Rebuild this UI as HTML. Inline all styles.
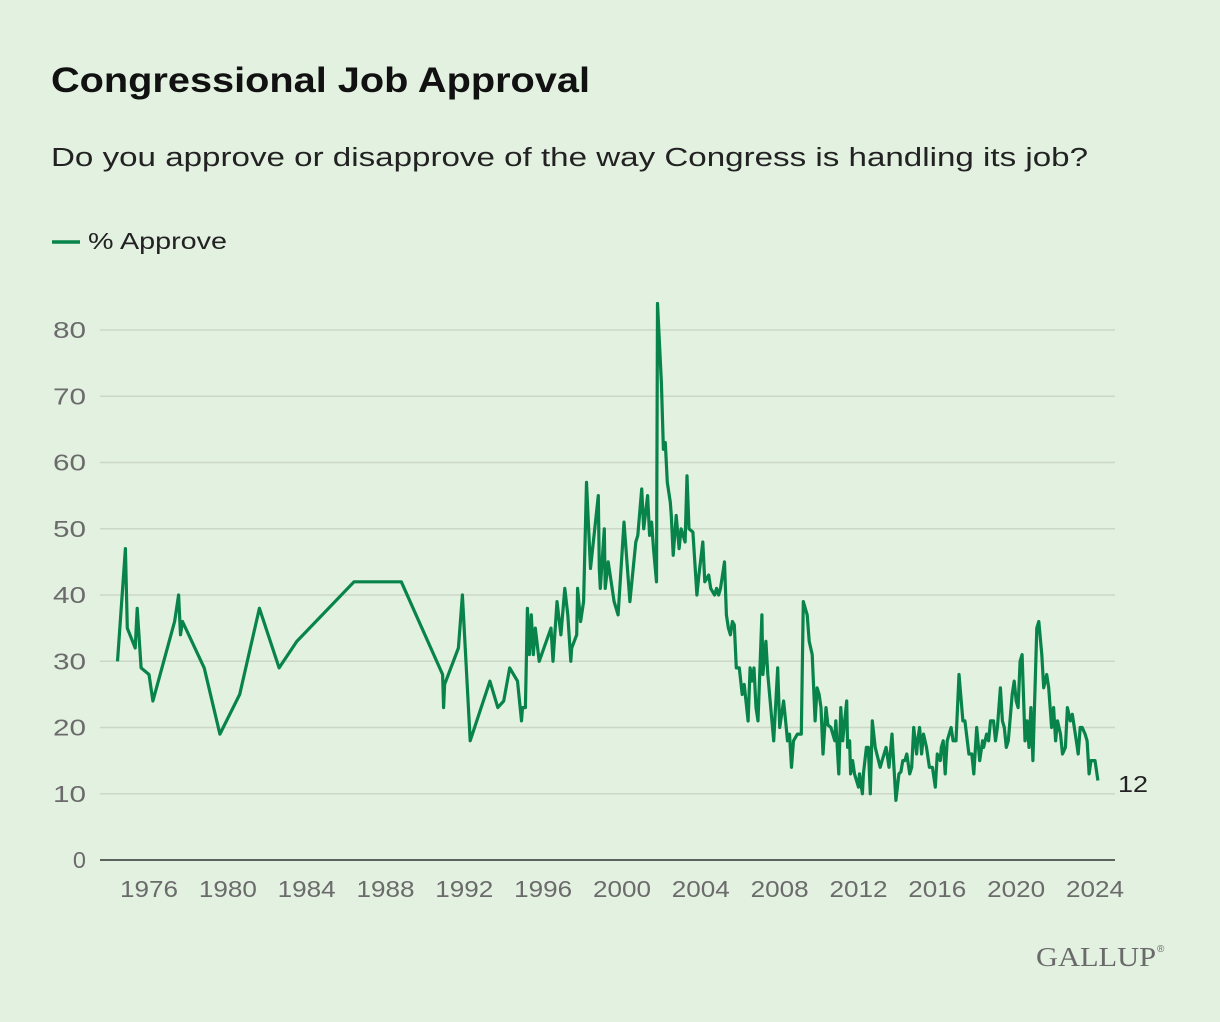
<!DOCTYPE html>
<html><head><meta charset="utf-8"><style>
body{margin:0;background:#e3f1e1;}
svg{display:block;font-family:"Liberation Sans",sans-serif;}
</style></head><body>
<svg width="1220" height="1022">
<rect width="1220" height="1022" fill="#e3f1e1"/>
<text x="51" y="92" font-size="35" font-weight="bold" fill="#111" textLength="539" lengthAdjust="spacingAndGlyphs">Congressional Job Approval</text>
<text x="51" y="166" font-size="25.5" fill="#222" textLength="1037" lengthAdjust="spacingAndGlyphs">Do you approve or disapprove of the way Congress is handling its job?</text>
<g>
<line x1="52" y1="242" x2="80" y2="242" stroke="#08844a" stroke-width="3.5"/>
<text x="88" y="249" font-size="23" fill="#222" textLength="139" lengthAdjust="spacingAndGlyphs">% Approve</text>
</g>
<g id="grid"></g><g id="yt"></g><g id="xt"></g><g id="ln"></g>
<text x="1118" y="792" font-size="23" fill="#222" textLength="30" lengthAdjust="spacingAndGlyphs">12</text>
<text x="1036" y="966" font-size="27" fill="#6a6a6a" font-family="Liberation Serif,serif" textLength="120" lengthAdjust="spacingAndGlyphs">GALLUP</text>
<text x="1157" y="952" font-size="10" fill="#6a6a6a">®</text>
</svg>
<script>
const years=[1974.4,1974.8,1974.9,1975.3,1975.4,1975.6,1976.0,1976.2,1977.3,1977.5,1977.6,1977.7,1978.8,1979.6,1980.6,1981.6,1982.6,1983.5,1986.4,1988.8,1990.9,1990.95,1991.0,1991.7,1991.9,1992.3,1993.3,1993.7,1994.0,1994.3,1994.7,1994.9,1994.95,1995.1,1995.2,1995.3,1995.4,1995.5,1995.6,1995.8,1996.4,1996.5,1996.7,1996.9,1997.1,1997.25,1997.4,1997.45,1997.7,1997.75,1997.9,1998.05,1998.2,1998.4,1998.8,1998.85,1998.9,1999.1,1999.15,1999.3,1999.6,1999.8,2000.1,2000.4,2000.7,2000.8,2001.0,2001.1,2001.3,2001.4,2001.5,2001.6,2001.75,2001.8,2002.0,2002.1,2002.2,2002.3,2002.45,2002.5,2002.6,2002.75,2002.9,2003.0,2003.2,2003.3,2003.4,2003.6,2003.8,2003.9,2004.1,2004.2,2004.4,2004.5,2004.7,2004.8,2004.9,2005.0,2005.2,2005.3,2005.4,2005.5,2005.6,2005.7,2005.8,2005.95,2006.1,2006.2,2006.4,2006.5,2006.6,2006.7,2006.8,2006.9,2007.1,2007.15,2007.3,2007.4,2007.7,2007.9,2008.0,2008.2,2008.3,2008.4,2008.5,2008.6,2008.7,2008.9,2009.1,2009.2,2009.4,2009.5,2009.65,2009.8,2009.9,2010.0,2010.1,2010.2,2010.35,2010.45,2010.6,2010.8,2010.85,2011.0,2011.1,2011.2,2011.4,2011.45,2011.55,2011.6,2011.7,2011.8,2012.0,2012.05,2012.2,2012.25,2012.4,2012.5,2012.6,2012.7,2012.85,2013.1,2013.2,2013.4,2013.55,2013.7,2013.9,2014.05,2014.15,2014.25,2014.35,2014.45,2014.6,2014.7,2014.8,2014.95,2015.0,2015.1,2015.2,2015.3,2015.45,2015.6,2015.75,2015.9,2016.0,2016.15,2016.2,2016.3,2016.4,2016.5,2016.7,2016.8,2016.95,2017.1,2017.3,2017.4,2017.6,2017.75,2017.85,2018.0,2018.15,2018.3,2018.35,2018.5,2018.6,2018.7,2018.85,2018.95,2019.05,2019.2,2019.3,2019.4,2019.5,2019.6,2019.8,2019.9,2020.0,2020.1,2020.2,2020.3,2020.45,2020.55,2020.65,2020.75,2020.85,2021.05,2021.15,2021.3,2021.4,2021.55,2021.65,2021.8,2021.9,2022.0,2022.1,2022.25,2022.35,2022.5,2022.6,2022.75,2022.85,2022.95,2023.05,2023.15,2023.25,2023.35,2023.5,2023.6,2023.7,2023.8,2024.0,2024.15];
const values=[30,47,35,32,38,29,28,24,36,40,34,36,29,19,25,38,29,33,42,42,28,23,26.5,32,40,18,27,23,24,29,27,21,23,23,38,31,37,31,35,30,35,30,39,34,41,37,30,32,34,41,36,39,57,44,55,44,41,50,41,45,39,37,51,39,48,49,56,50,55,49,51,47,42,84,72,62,63,57,54,52,46,52,47,50,48,58,50,49.5,40,43,48,42,43,41,40,41,40,41,45,37,35,34,36,35.5,29,29,25,26.5,21,29,27,29,23,21,37,28,33,28,18,29,20,24,21,18,19,14,18,19,19,39,37,33,31,21,26,25,23,16,23,20.4,20,18,21,13,23,18,24,17,18,13,15,13,11,13,10,13,17,17,10,21,17,14,15,17,14,19,9,13,13.3,15,15,16,13,14,20,16,18,20,16,19,17,14,14,11,16,15,17,18,13,18,20,18,18,28,21,21,16,16,13,20,15,18,17,19,18,21,21,18,20,26,21,20,17,18,25,27,24,23,30,31,18,21,17,23,15,35,36,31,26,28,26,20,23,18,21,19,16,17,23,21,22,20,18,16,20,20,19,18,13,15,15,12];
const yTicks=[0,10,20,30,40,50,60,70,80];
const xTicks=[1976,1980,1984,1988,1992,1996,2000,2004,2008,2012,2016,2020,2024];
const ns="http://www.w3.org/2000/svg";
const X=y=>149+(y-1976)*19.708, Y=v=>860-v*6.625;
function mk(t,a,p){const e=document.createElementNS(ns,t);for(const k in a)e.setAttribute(k,a[k]);document.getElementById(p).appendChild(e);return e;}
yTicks.forEach(v=>{
 if(v>0){const g=mk('line',{x1:100,x2:1115,y1:Y(v),y2:Y(v),stroke:'#cbd8c7','stroke-width':1.5},'grid');
 
 }
 const a={x:86,y:Y(v)+8,'font-size':23.5,'text-anchor':'end',fill:'#6b6b6b'};
 if(v>=10){a.textLength=33;a.lengthAdjust='spacingAndGlyphs';}
 const t=mk('text',a,'yt');t.textContent=v;
 
 
});
const ax=mk('line',{x1:100,x2:1115,y1:860,y2:860,stroke:'#333','stroke-width':1.5},'grid');


xTicks.forEach(yr=>{const t=mk('text',{x:X(yr)-29,y:897,'font-size':23.5,fill:'#6b6b6b',textLength:58,lengthAdjust:'spacingAndGlyphs'},'xt');t.textContent=yr;
 
 });
const p=mk('polyline',{points:years.map((y,i)=>X(y).toFixed(1)+','+Y(values[i]).toFixed(1)).join(' '),fill:'none',stroke:'#08844a','stroke-width':3.2,'stroke-linejoin':'round'},'ln');


</script>
</body></html>
